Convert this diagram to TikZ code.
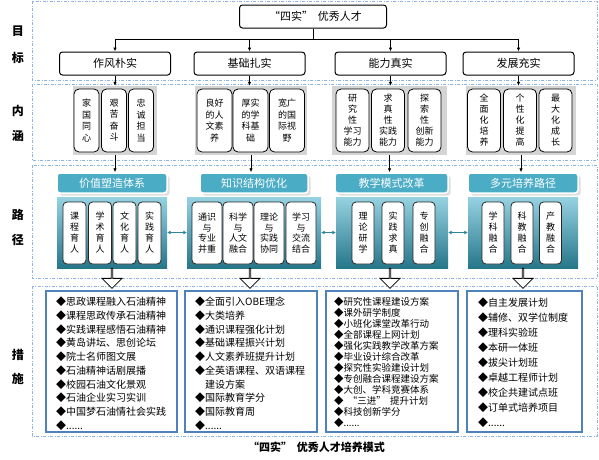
\documentclass[tikz,border=0pt]{standalone}
\usepackage{fontspec}
\setmainfont{Noto Sans CJK SC}
\usetikzlibrary{arrows.meta,shapes.arrows,shadows}

\definecolor{zoneblue}{RGB}{142,180,227}
\definecolor{boxblue}{RGB}{79,129,189}
\definecolor{headteal}{RGB}{75,172,198}
\definecolor{paneltop}{RGB}{150,210,226}
\definecolor{panelbot}{RGB}{38,118,138}
\definecolor{linkteal}{RGB}{49,133,155}

\newcommand{\qopen}{\hspace{0.45em}“}
\newcommand{\qclose}{”\hspace{0.45em}}

\tikzset{
  zone/.style={draw=zoneblue, line width=0.7pt, dash pattern=on 3pt off 1.5pt on 1pt off 1.5pt},
  zonelabel/.style={font=\fontsize{12}{12}\selectfont\bfseries},
  goalbox/.style={draw, line width=1pt, rounded corners=3pt, minimum height=23pt, minimum width=111pt, inner sep=0pt, font=\fontsize{11}{11}\selectfont},
  down/.style={-{Latex[length=4pt,width=3.5pt]}, line width=0.8pt},
  ideabg/.style={fill=black!17, minimum height=69pt, inner sep=0pt},
  ideabox/.style={draw, fill=white, line width=0.8pt, rounded corners=5pt, minimum height=63pt, inner sep=0pt, align=center, font=\fontsize{9}{11.5}\selectfont},
  pathhead/.style={fill=headteal, draw=white, line width=1.5pt, rounded corners=3pt, minimum height=20pt, inner sep=0pt, text=white, font=\fontsize{11}{11}\selectfont, drop shadow={opacity=0.25}},
  pathpanel/.style={top color=paneltop, bottom color=panelbot, minimum height=71pt, inner sep=0pt},
  pathbox/.style={draw=black!85, fill=white, line width=0.8pt, rounded corners=4pt, minimum height=62pt, inner sep=0pt, align=center, font=\fontsize{9}{11}\selectfont},
  link/.style={{Latex[length=3.5pt,width=4pt]}-{Latex[length=3.5pt,width=4pt]}, draw=linkteal, line width=1.5pt},
  hollow/.style={single arrow, draw, fill=white, line width=0.8pt, shape border rotate=270, minimum height=20pt, minimum width=20pt, single arrow head extend=5pt, inner sep=0pt},
  measbox/.style={draw=boxblue, line width=1.3pt, minimum height=141pt, inner sep=0pt},
  measlist/.style={anchor=north west, inner sep=0pt, align=left, font=\fontsize{10}{13.7}\selectfont},
}

\begin{document}
\begin{tikzpicture}[x=1pt, y=-1pt]
    \useasboundingbox (0,0) rectangle (599,459);

    % Zones
    \draw[zone] (32,1) rectangle (597,80);
    \draw[zone] (32,84) rectangle (597,160);
    \draw[zone] (32,165) rectangle (597,278);
    \draw[zone] (32,286) rectangle (597,436);

    % Zone labels
    \node[zonelabel] (l1a) at (18,31) {目};
    \node[zonelabel] (l1b) at (18,58) {标};
    \node[zonelabel] (l2a) at (18,111) {内};
    \node[zonelabel] (l2b) at (18,136) {涵};
    \node[zonelabel] (l3a) at (18,215) {路};
    \node[zonelabel] (l3b) at (18,240) {径};
    \node[zonelabel] (l4a) at (18,355) {措};
    \node[zonelabel] (l4b) at (18,379) {施};

    % GOAL
    \node[goalbox, minimum width=147pt] (top) at (313,16.5) {\qopen 四实\qclose 优秀人才};
    \node[goalbox] (g1) at (115,63.5) {作风朴实};
    \node[goalbox] (g2) at (249.5,63.5) {基础扎实};
    \node[goalbox] (g3) at (390.5,63.5) {能力真实};
    \node[goalbox] (g4) at (518.5,63.5) {发展充实};
    \coordinate (bus) at (313,39);
    \draw[line width=0.8pt] (top.south) -- (bus);
    \foreach \g in {g1,g2,g3,g4}
        \draw[down] (bus) -| (\g.north);

    % CONTENT
    \node[ideabg, minimum width=84pt] (n1) at (115,120.5) {};
    \node[ideabg, minimum width=112pt] (n2) at (251,120.5) {};
    \node[ideabg, minimum width=115pt] (n3) at (389.5,120.5) {};
    \node[ideabg, minimum width=110pt] (n4) at (521,120.5) {};

    \node[ideabox, minimum width=25pt] (n1a) at (86.5,120.5) {家\\国\\同\\心};
    \node[ideabox, minimum width=25pt] (n1b) at (114,120.5) {艰\\苦\\奋\\斗};
    \node[ideabox, minimum width=25pt] (n1c) at (141,120.5) {忠\\诚\\担\\当};

    \node[ideabox, minimum width=35pt] (n2a) at (214.5,120.5) {良好\\的人\\文素\\养};
    \node[ideabox, minimum width=35pt] (n2b) at (250.5,120.5) {厚实\\的学\\科基\\础};
    \node[ideabox, minimum width=35pt] (n2c) at (287,120.5) {宽广\\的国\\际视\\野};

    \node[ideabox, minimum width=33pt, font=\fontsize{9}{11}\selectfont] (n3a) at (352.5,120.5) {研\\究\\性\\学习\\能力};
    \node[ideabox, minimum width=33pt, font=\fontsize{9}{11}\selectfont] (n3b) at (388,120.5) {求\\真\\性\\实践\\能力};
    \node[ideabox, minimum width=33pt, font=\fontsize{9}{11}\selectfont] (n3c) at (424.5,120.5) {探\\索\\性\\创新\\能力};

    \node[ideabox, minimum width=33pt, font=\fontsize{9}{11}\selectfont] (n4a) at (484,120.5) {全\\面\\化\\培\\养};
    \node[ideabox, minimum width=33pt, font=\fontsize{9}{11}\selectfont] (n4b) at (520,120.5) {个\\性\\化\\提\\高};
    \node[ideabox, minimum width=33pt, font=\fontsize{9}{11}\selectfont] (n4c) at (555.5,120.5) {最\\大\\化\\成\\长};

    \foreach \i in {1,...,4}
        \draw[down] (g\i.south) -- (g\i.south |- n\i.north);

    % PATHS
    \node[pathhead, minimum width=110pt] (h1) at (112,183) {价值塑造体系};
    \node[pathhead, minimum width=108pt] (h2) at (254,183) {知识结构优化};
    \node[pathhead, minimum width=113pt] (h3) at (391.5,183) {教学模式改革};
    \node[pathhead, minimum width=110pt] (h4) at (523,183) {多元培养路径};

    \foreach \i in {1,...,4}
        \draw[down] (n\i.south) -- (n\i.south |- h\i.north);

    \node[pathpanel, minimum width=110pt] (p1) at (112,232.5) {};
    \node[pathpanel, minimum width=134pt] (p2) at (254,232.5) {};
    \node[pathpanel, minimum width=112pt] (p3) at (392,232.5) {};
    \node[pathpanel, minimum width=110pt] (p4) at (523,232.5) {};

    \node[pathbox, minimum width=23pt] (p1a) at (74.5,233) {课\\程\\育\\人};
    \node[pathbox, minimum width=23pt] (p1b) at (100,233) {学\\术\\育\\人};
    \node[pathbox, minimum width=23pt] (p1c) at (124.5,233) {文\\化\\育\\人};
    \node[pathbox, minimum width=23pt] (p1d) at (149.5,233) {实\\践\\育\\人};

    \node[pathbox, minimum width=30pt, font=\fontsize{9}{10.5}\selectfont] (p2a) at (207,233) {通识\\与\\专业\\并重};
    \node[pathbox, minimum width=30pt, font=\fontsize{9}{10.5}\selectfont] (p2b) at (238,233) {科学\\与\\人文\\融合};
    \node[pathbox, minimum width=30pt, font=\fontsize{9}{10.5}\selectfont] (p2c) at (269,233) {理论\\与\\实践\\协同};
    \node[pathbox, minimum width=30pt, font=\fontsize{9}{10.5}\selectfont] (p2d) at (301,233) {学习\\与\\交流\\结合};

    \node[pathbox, minimum width=22pt] (p3a) at (363,233) {理\\论\\研\\学};
    \node[pathbox, minimum width=22pt] (p3b) at (393,233) {实\\践\\求\\真};
    \node[pathbox, minimum width=22pt] (p3c) at (424,233) {专\\创\\融\\合};

    \node[pathbox, minimum width=22pt] (p4a) at (493,233) {学\\科\\融\\合};
    \node[pathbox, minimum width=22pt] (p4b) at (522,233) {科\\教\\融\\合};
    \node[pathbox, minimum width=22pt] (p4c) at (550.5,233) {产\\教\\融\\合};

    \draw[link] (p1.east) -- (p2.west);
    \draw[link] (p2.east) -- (p3.west);
    \draw[link] (p3.east) -- (p4.west);

    % Hollow arrows down to measures
    \node[hollow] (a1) at (112,278) {};
    \node[hollow] (a2) at (250,278) {};
    \node[hollow] (a3) at (390,278) {};
    \node[hollow] (a4) at (523,278) {};

    % MEASURES
    \node[measbox, minimum width=131pt] (m1) at (111.5,361.5) {};
    \node[measbox, minimum width=132pt] (m2) at (251,361.5) {};
    \node[measbox, minimum width=132pt] (m3) at (392,361.5) {};
    \node[measbox, minimum width=115pt] (m4) at (524.5,361.5) {};

    \node[measlist] (t1) at (56,297) {◆思政课程融入石油精神\\◆课程思政传承石油精神\\◆实践课程感悟石油精神\\◆黄岛讲坛、思创论坛\\◆院士名师图文展\\◆石油精神话剧展播\\◆校园石油文化景观\\◆石油企业实习实训\\◆中国梦石油情社会实践\\◆......};
    \node[measlist] (t2) at (195,297) {◆全面引入OBE理念\\◆大类培养\\◆通识课程强化计划\\◆基础课程振兴计划\\◆人文素养班提升计划\\◆全英语课程、双语课程\\\phantom{◆}建设方案\\◆国际教育学分\\◆国际教育周\\◆......};
    \node[measlist, font=\fontsize{9.5}{11}\selectfont] (t3) at (334,297) {◆研究性课程建设方案\\◆课外研学制度\\◆小班化课堂改革行动\\◆全部课程上网计划\\◆强化实践教学改革方案\\◆毕业设计综合改革\\◆探究性实验建设计划\\◆专创融合课程建设方案\\◆大创、学科竞赛体系\\◆\qopen 三进\qclose 提升计划\\◆科技创新学分\\◆......};
    \node[measlist, font=\fontsize{10}{14.9}\selectfont] (t4) at (478,298) {◆自主发展计划\\◆辅修、双学位制度\\◆理科实验班\\◆本研一体班\\◆拔尖计划班\\◆卓越工程师计划\\◆校企共建试点班\\◆订单式培养项目\\◆......};

    % Caption
    \node[font=\fontsize{11}{11}\selectfont\bfseries] (cap) at (314,447) {\qopen 四实\qclose 优秀人才培养模式};

\end{tikzpicture}
\end{document}
